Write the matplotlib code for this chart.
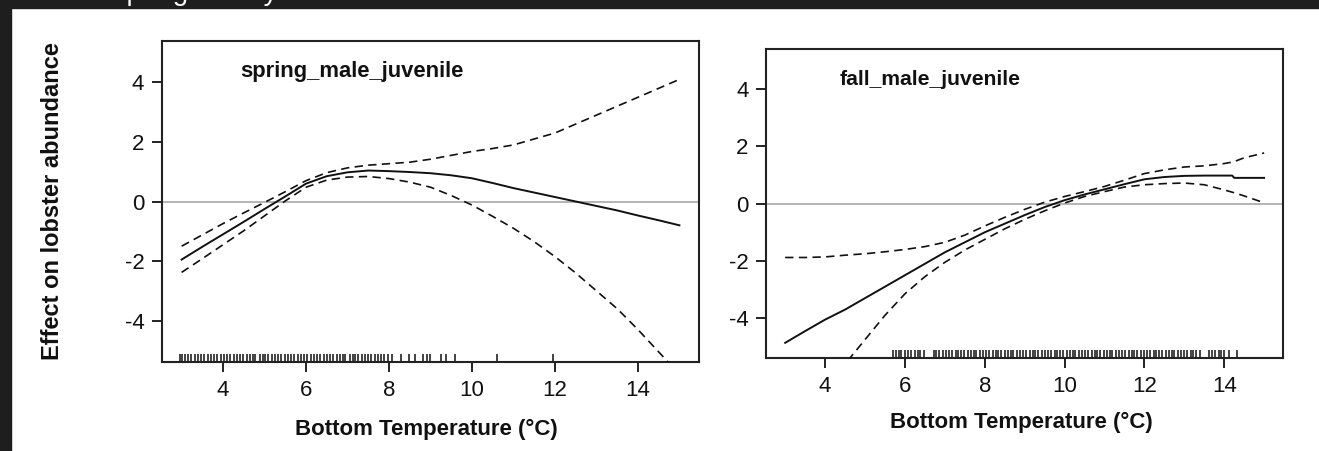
import numpy as np
import matplotlib
matplotlib.use("Agg")
import matplotlib.pyplot as plt
from matplotlib.patches import Rectangle

plt.rcParams['font.family'] = ['Liberation Sans', 'DejaVu Sans']
plt.rcParams['axes.unicode_minus'] = False

# spring_male_juvenile: fitted smooth and confidence bands
temp = [3, 3.5, 4, 4.5, 5, 5.5, 6, 6.5, 7, 7.5, 8, 8.5, 9, 9.5, 10, 10.5,
        11, 11.5, 12, 12.5, 13, 13.5, 14, 14.5, 15]
spring_fit = [-1.95, -1.52, -1.10, -0.68, -0.25, 0.17, 0.60, 0.85, 0.98, 1.04,
              1.02, 0.99, 0.95, 0.88, 0.78, 0.62, 0.45, 0.30, 0.15, 0.00,
              -0.15, -0.30, -0.47, -0.63, -0.80]
spring_upper = [-1.50, -1.12, -0.74, -0.38, -0.03, 0.33, 0.70, 0.97, 1.13, 1.22,
                1.27, 1.32, 1.42, 1.55, 1.68, 1.78, 1.90, 2.10, 2.30, 2.60,
                2.90, 3.20, 3.50, 3.80, 4.10]
spring_lower = [-2.38, -1.92, -1.45, -0.98, -0.48, 0.02, 0.48, 0.72, 0.82, 0.84,
                0.77, 0.65, 0.48, 0.20, -0.12, -0.50, -0.90, -1.35, -1.85, -2.40,
                -3.00, -3.60, -4.30, -5.05, -5.80]

# fall_male_juvenile
fall_temp = [3, 3.5, 4, 4.5, 5, 5.5, 6, 6.5, 7, 7.5, 8, 8.5, 9, 9.5, 10, 10.5,
             11, 11.5, 12, 12.5, 13, 13.5, 14, 14.2, 14.25, 14.5, 15]
fall_fit = [-4.86, -4.45, -4.05, -3.70, -3.30, -2.90, -2.50, -2.10, -1.70, -1.35,
            -1.00, -0.70, -0.40, -0.12, 0.12, 0.32, 0.50, 0.68, 0.85, 0.93,
            0.97, 0.98, 0.98, 0.98, 0.90, 0.90, 0.90]
fall_upper = [-1.88, -1.88, -1.86, -1.80, -1.75, -1.68, -1.60, -1.50, -1.35, -1.10,
              -0.78, -0.48, -0.20, 0.05, 0.25, 0.42, 0.60, 0.82, 1.05, 1.18,
              1.28, 1.32, 1.40, 1.45, 1.47, 1.60, 1.77]
fall_lower = [-8.00, -7.10, -6.30, -5.60, -4.75, -3.90, -3.15, -2.55, -2.05, -1.62,
              -1.25, -0.88, -0.55, -0.25, 0.02, 0.25, 0.42, 0.58, 0.66, 0.70,
              0.72, 0.66, 0.48, 0.40, 0.38, 0.27, 0.03]

# rug of observed temperatures
spring_rug = [2.95, 3.02, 3.09, 3.16, 3.23, 3.33, 3.40, 3.47, 3.54, 3.64, 3.71,
              3.78, 3.85, 3.95, 4.02, 4.09, 4.16, 4.26, 4.33, 4.40, 4.47, 4.57,
              4.64, 4.71, 4.78, 4.88, 4.95, 5.02, 5.09, 5.19, 5.26, 5.33, 5.40,
              5.50, 5.57, 5.64, 5.71, 5.81, 5.88, 5.95, 6.02, 6.12, 6.19, 6.26,
              6.33, 6.43, 6.50, 6.57, 6.64, 6.74, 6.81, 6.88, 6.95, 7.05, 7.12,
              7.19, 7.26, 7.36, 7.43, 7.50, 7.57, 7.67, 7.74, 7.81, 7.88, 7.98,
              8.07, 8.28, 8.49, 8.62, 8.83, 8.92, 9.00, 9.25, 9.38, 9.59, 10.61,
              11.96]
fall_rug = [5.70, 5.77, 5.84, 5.91, 6.01, 6.08, 6.15, 6.25, 6.32, 6.39, 6.48,
            6.72, 6.79, 6.86, 6.96, 7.03, 7.10, 7.17, 7.27, 7.34, 7.41, 7.48,
            7.58, 7.65, 7.72, 7.79, 7.89, 7.96, 8.03, 8.10, 8.20, 8.27, 8.34,
            8.41, 8.51, 8.58, 8.65, 8.72, 8.82, 8.89, 8.96, 9.03, 9.13, 9.20,
            9.27, 9.34, 9.44, 9.51, 9.58, 9.65, 9.75, 9.82, 9.89, 9.96, 10.06,
            10.13, 10.20, 10.27, 10.37, 10.44, 10.51, 10.58, 10.68, 10.75, 10.82,
            10.89, 10.99, 11.06, 11.13, 11.20, 11.30, 11.37, 11.44, 11.51, 11.61,
            11.68, 11.75, 11.82, 11.92, 11.99, 12.06, 12.13, 12.23, 12.30, 12.37,
            12.44, 12.54, 12.61, 12.68, 12.75, 12.85, 12.92, 12.99, 13.06, 13.16,
            13.23, 13.30, 13.40, 13.62, 13.69, 13.76, 13.86, 13.93, 14.00, 14.12,
            14.33]

xticks = [4, 6, 8, 10, 12, 14]
yticks = [-4, -2, 0, 2, 4]

W, H = 1319, 451
fig = plt.figure(figsize=(W / 100, H / 100), dpi=100)
fig.patch.set_facecolor('white')


def px_axes(left, top, right, bottom):
    return fig.add_axes([left / W, 1 - bottom / H, (right - left) / W, (bottom - top) / H])


def panel(ax, x, fit, up, lo, rug, title, tx, ty, tsize):
    ax.set_xlim(2.52, 15.48)
    ax.set_ylim(-5.4, 5.4)
    ax.axhline(0, color='#b4b4b4', lw=1.4, zorder=1)
    ax.plot(x, fit, color='#111111', lw=1.4, zorder=3)
    ax.plot(x, up, color='#111111', lw=1.2, dashes=(5, 3.2), zorder=3)
    ax.plot(x, lo, color='#111111', lw=1.2, dashes=(5, 3.2), zorder=3)
    ax.vlines(rug, 0, 0.027, transform=ax.get_xaxis_transform(),
              color='#111111', lw=1.1)
    ax.set_xticks(xticks)
    ax.set_yticks(yticks)
    ax.tick_params(direction='out', length=7.5, width=1.3, labelsize=16,
                   colors='#111111', pad=5)
    for s in ax.spines.values():
        s.set_linewidth(1.5)
        s.set_color('#222222')
    ax.text(tx, ty, title, transform=ax.transAxes, fontsize=tsize,
            fontweight='bold', ha='center', va='center', color='#111111')


ax1 = px_axes(161.7, 40.7, 699.3, 362.3)
panel(ax1, temp, spring_fit, spring_upper, spring_lower, spring_rug,
      'spring_male_juvenile', 0.353, 0.903, 15.8)

ax2 = px_axes(766, 49, 1283.3, 358.3)
panel(ax2, fall_temp, fall_fit, fall_upper, fall_lower, fall_rug,
      'fall_male_juvenile', 0.318, 0.902, 15.2)

fig.text(53 / W, 1 - 201.5 / H, 'Effect on lobster abundance', rotation=90,
         fontsize=17, fontweight='bold', ha='center', va='center', color='#111111')
fig.text(426 / W, 1 - 429 / H, 'Bottom Temperature (°C)', fontsize=16,
         fontweight='bold', ha='center', va='center', color='#111111')
fig.text(1021 / W, 1 - 422 / H, 'Bottom Temperature (°C)', fontsize=16,
         fontweight='bold', ha='center', va='center', color='#111111')

# dark frame of the screenshot, with the cut-off caption above it
fig.add_artist(Rectangle((0, 1 - 8 / H), 1, 8 / H, transform=fig.transFigure,
                         color='#1e1e1e', zorder=0))
fig.add_artist(Rectangle((0, 0), 11 / W, 1, transform=fig.transFigure,
                         color='#1e1e1e', zorder=0))
fig.text(108 / W, 1 - 0.5 / H, 'Spring survey', fontsize=20, color='white',
         ha='left', va='baseline')

fig.savefig('out.png', dpi=100, facecolor='white')
